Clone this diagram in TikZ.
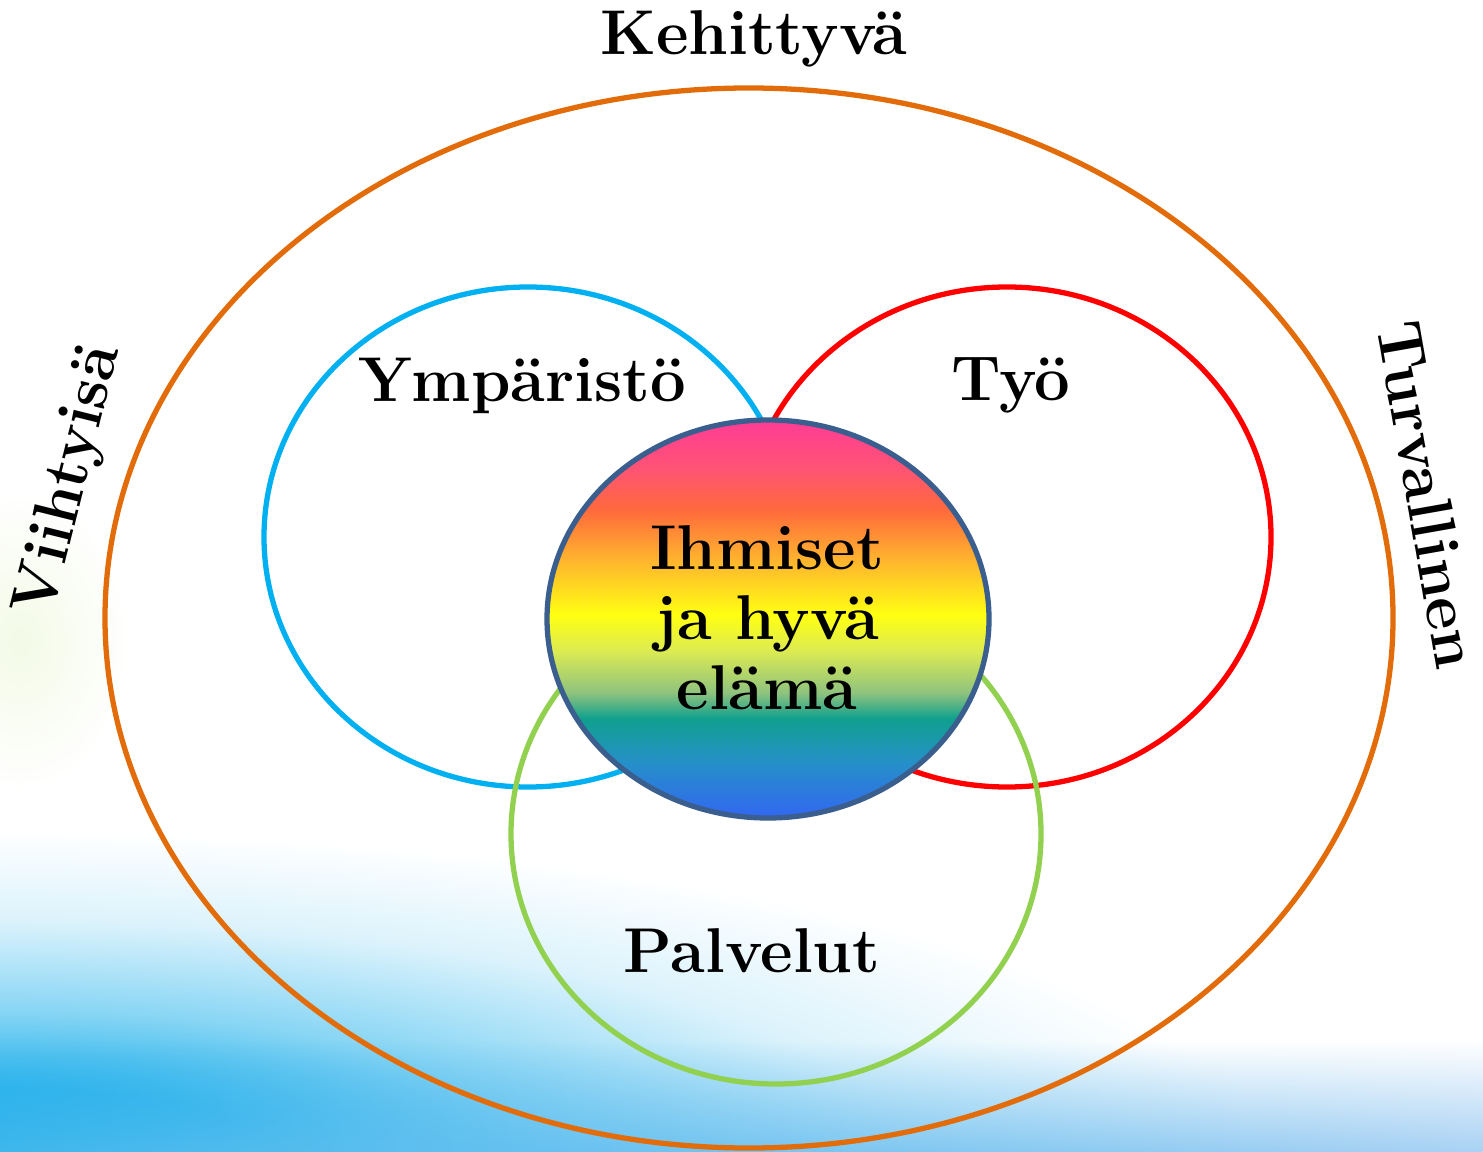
\documentclass[tikz,border=0pt]{standalone}
\usepackage{tikz}
\usetikzlibrary{fadings}
\definecolor{ringOrange}{HTML}{E36C0A}
\definecolor{envBlue}{HTML}{00B0F0}
\definecolor{workRed}{HTML}{FF0000}
\definecolor{servGreen}{HTML}{92D050}
\definecolor{coreEdge}{HTML}{3A5F8E}
\definecolor{skyBlue}{HTML}{12ACEA}
\definecolor{bandBlue}{HTML}{AAD2F4}
\definecolor{leafTint}{HTML}{F3FAE6}
\definecolor{rbBlue}{HTML}{3366F2}
\definecolor{rbSky}{HTML}{2590C8}
\definecolor{rbTeal}{HTML}{10A08E}
\definecolor{rbSage}{HTML}{8EC27E}
\definecolor{rbLime}{HTML}{DCEB52}
\definecolor{rbYellow}{HTML}{FFFF12}
\definecolor{rbAmber}{HTML}{FFB42E}
\definecolor{rbCoral}{HTML}{FF6A3C}
\definecolor{rbRose}{HTML}{FF5473}
\definecolor{rbPink}{HTML}{FF3C96}
\pgfdeclareverticalshading{rainbow}{100bp}{color(0bp)=(rbBlue); color(25bp)=(rbBlue); color(32bp)=(rbSky); color(37.5bp)=(rbTeal); color(40.7bp)=(rbSage); color(46bp)=(rbLime); color(50.5bp)=(rbYellow); color(57.4bp)=(rbAmber); color(63.7bp)=(rbCoral); color(68.7bp)=(rbRose); color(75bp)=(rbPink); color(100bp)=(rbPink)}
\pgfdeclareradialshading{skyglow}{\pgfpointorigin}{color(0bp)=(skyBlue); color(5bp)=(skyBlue!92!white); color(11bp)=(skyBlue!50!white); color(18bp)=(skyBlue!15!white); color(25bp)=(white); color(50bp)=(white)}

\begin{document}
\begin{tikzpicture}[x=0.01cm, y=0.01cm,
		ring/.style={line width=1.5pt},
		word/.style={font=\fontsize{18}{19.9}\selectfont\bfseries, inner sep=0pt}]
	\useasboundingbox (0, 0) rectangle (1483, 1151);
	\fill[white] (0, 0) rectangle (1483, 1151);
	\begin{scope}
		\clip (0, 0) rectangle (1483, 1151);
		\shade[shading=skyglow] (0, 0) ellipse (1250 and 320);
		\shade[left color=skyBlue!70!bandBlue, right color=bandBlue, path fading=north] (0, 0) rectangle (1483, 110);
		\shade[inner color=leafTint, outer color=white] (20, 510) ellipse (110 and 150);
	\end{scope}
	\draw[ring, ringOrange] (749, 533) ellipse (644 and 530);
	\draw[ring, envBlue] (528, 614) ellipse (264 and 250);
	\draw[ring, workRed] (1007, 614) ellipse (264 and 250);
	\draw[ring, servGreen] (776, 317) ellipse (265 and 250);
	\shadedraw[shading=rainbow, draw=coreEdge, ring] (768, 532) ellipse (221 and 199);
	\node[word, anchor=base] (kehittyva) at (754, 1096) {Kehittyvä};
	\node[word, anchor=base] (ymparisto) at (522, 749) {Ympäristö};
	\node[word, anchor=base] (tyo) at (1011, 751) {Työ};
	\node[word, anchor=base] (palvelut) at (752, 179) {Palvelut};
	\node[word, align=center] (ihmiset) at (767, 533) {Ihmiset\\ja hyvä\\elämä};
	\node[word, rotate=76] (viihtyisa) at (70, 670) {Viihtyisä};
	\node[word, rotate=-80] (turvallinen) at (1428, 656) {Turvallinen};
\end{tikzpicture}
\end{document}
